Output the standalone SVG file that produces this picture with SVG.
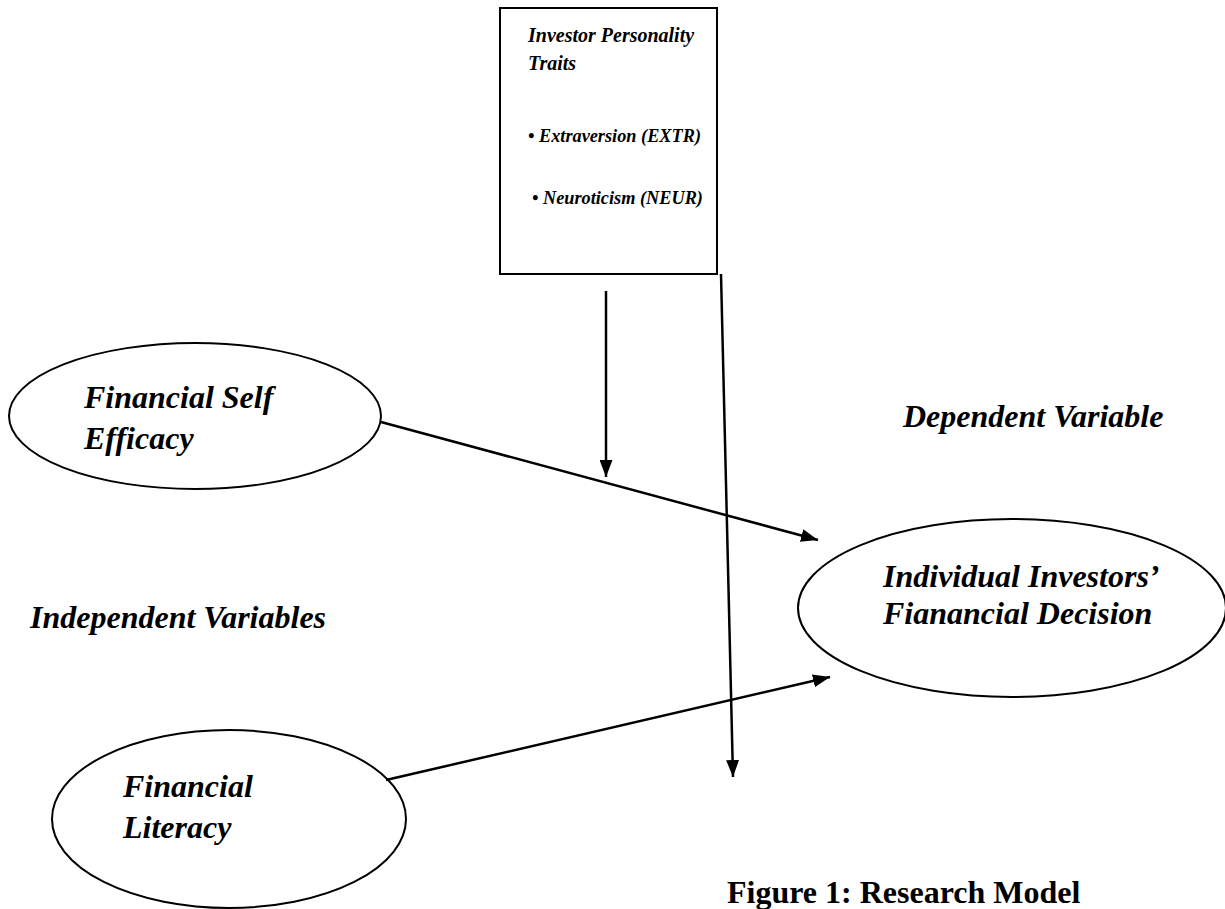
<svg xmlns="http://www.w3.org/2000/svg" width="1225" height="909" viewBox="0 0 1225 909">
<style>
.shape{fill:#fff;stroke:#000;stroke-width:2}
.lbl{font-family:"Liberation Serif","Times New Roman",serif;font-weight:bold;font-style:italic;fill:#000}
.big{font-size:32px}
.small{font-size:20px}
.bul{font-size:18.3px}
.conn{stroke:#000;stroke-width:2.5;fill:none;marker-end:url(#ah)}
.cap{font-family:"Liberation Serif","Times New Roman",serif;font-weight:bold;font-size:32px;fill:#000}
</style>
<defs>
<marker id="ah" viewBox="0 0 17 13" refX="17" refY="6.5" markerWidth="17" markerHeight="13" markerUnits="userSpaceOnUse" orient="auto">
<path d="M0,0 L17,6.5 L0,13 Z" fill="#000"/>
</marker>
</defs>
<rect width="1225" height="909" fill="#fff"/>
<g id="traits">
<rect class="shape" x="500" y="8" width="217" height="266"/>
<text class="lbl small" x="528" y="42">Investor Personality</text>
<text class="lbl small" x="528" y="70">Traits</text>
<text class="lbl bul" x="528" y="142">• Extraversion (EXTR)</text>
<text class="lbl bul" x="532" y="204">• Neuroticism (NEUR)</text>
</g>
<g id="fse">
<ellipse class="shape" cx="195" cy="416" rx="186" ry="73"/>
<text class="lbl big" x="84" y="408">Financial Self</text>
<text class="lbl big" x="84" y="449">Efficacy</text>
</g>
<g id="fl">
<ellipse class="shape" cx="229" cy="819" rx="177" ry="89"/>
<text class="lbl big" x="123" y="797">Financial</text>
<text class="lbl big" x="123" y="838">Literacy</text>
</g>
<g id="decision">
<ellipse class="shape" cx="1012" cy="608" rx="214" ry="89"/>
<text class="lbl big" x="883" y="587">Individual Investors’</text>
<text class="lbl big" x="883" y="624">Fianancial Decision</text>
</g>
<g id="labels">
<text class="lbl big" x="903" y="427">Dependent Variable</text>
<text class="lbl big" x="30" y="628">Independent Variables</text>
<text class="cap" x="727" y="903">Figure 1: Research Model</text>
</g>
<g id="connectors">
<line class="conn" x1="606" y1="291" x2="606" y2="477"/>
<line class="conn" x1="721" y1="274" x2="733" y2="777"/>
<line class="conn" x1="381" y1="422" x2="818" y2="540"/>
<line class="conn" x1="386" y1="780" x2="830" y2="677"/>
</g>
</svg>
